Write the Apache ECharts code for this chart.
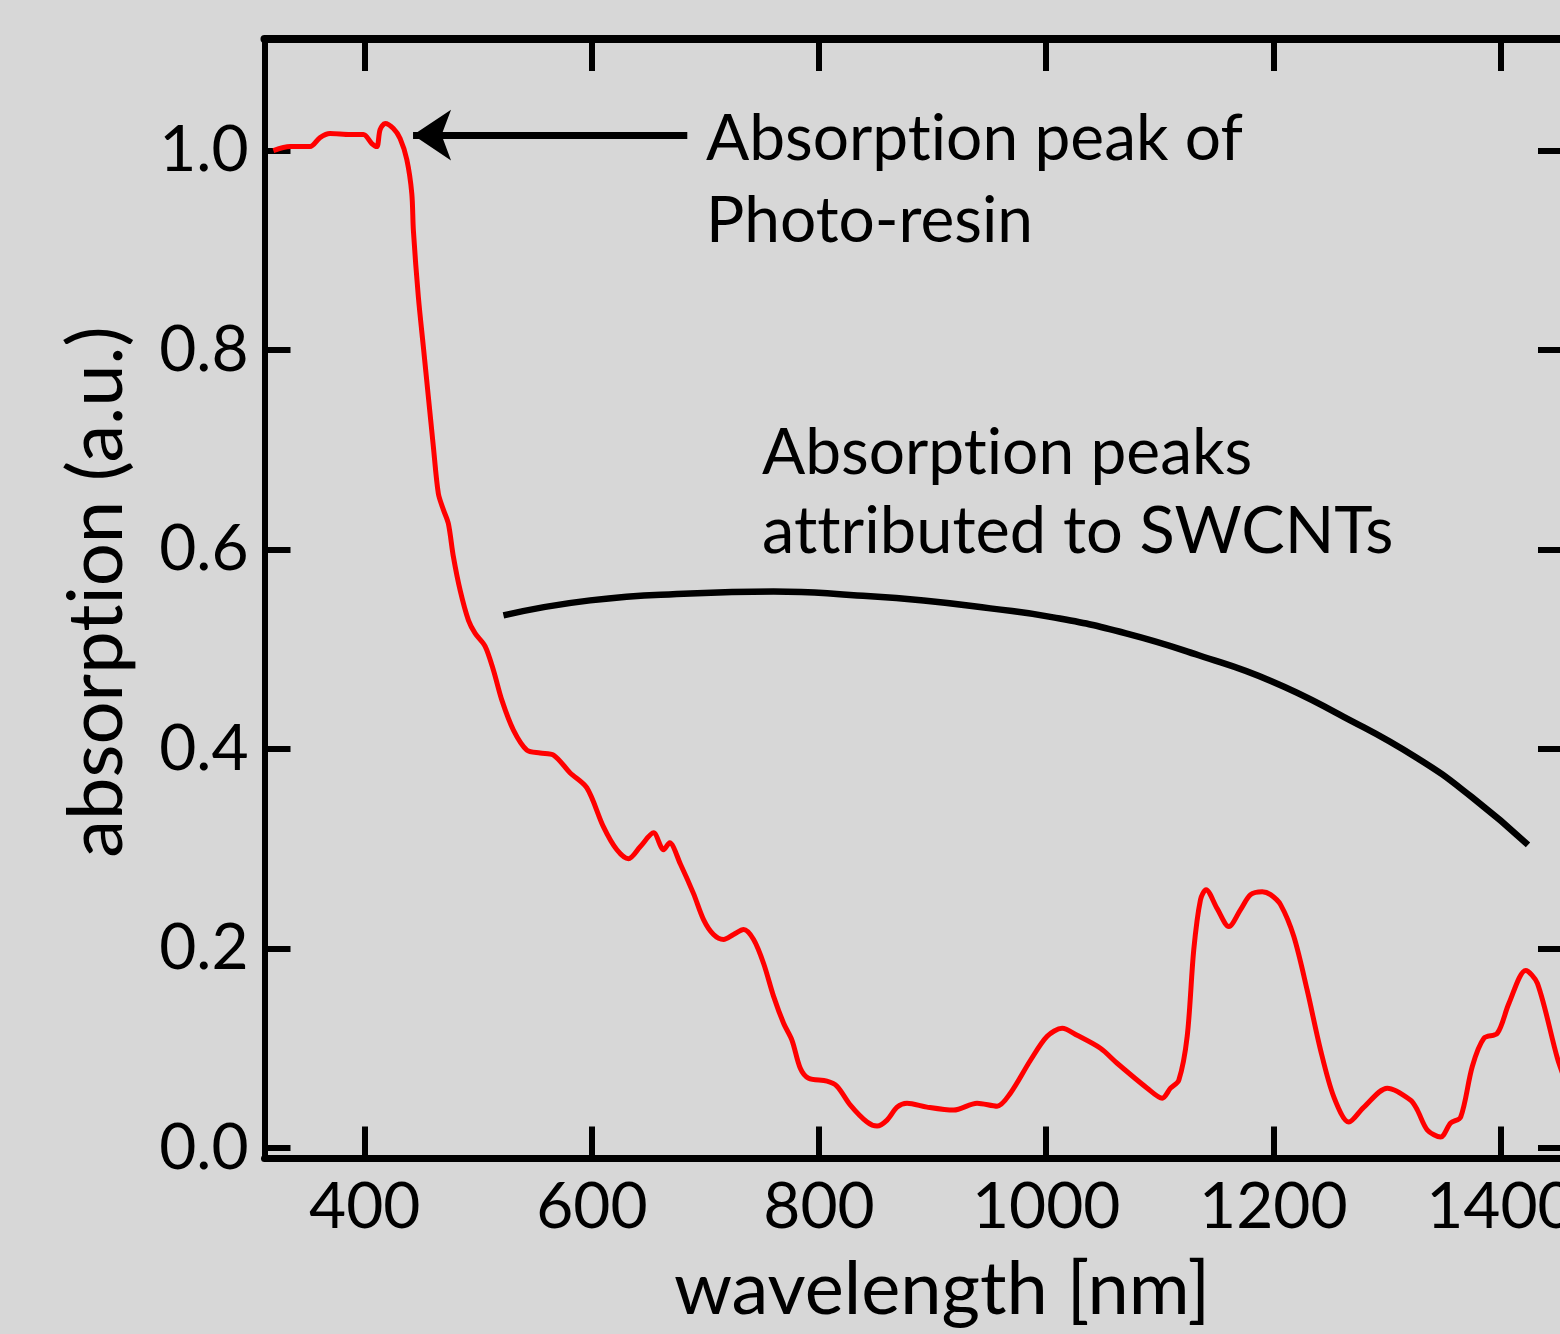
<!DOCTYPE html>
<html>
<head>
<meta charset="utf-8">
<title>absorption spectrum</title>
<script src="https://cdn.jsdelivr.net/npm/echarts@6/dist/echarts.min.js"></script>
<style>
  html, body { margin: 0; padding: 0; background: #d7d7d7; }
  #chart { width: 1560px; height: 1334px; }
</style>
</head>
<body>
<div id="chart"></div>
<script>
// spectrum: wavelength [nm] -> absorption (a.u.)
const wavelength = [
  319.5, 334.2, 351.8, 360.6, 369.4, 387.0, 398.8, 406.2, 410.6, 413.5,
  417.9, 425.2, 431.1, 437.0, 441.4, 442.8, 447.2, 451.6, 456.0, 460.4,
  464.8, 469.2, 473.6, 478.0, 484.0, 491.3, 497.2, 506.0, 513.3, 520.7,
  530.9, 542.7, 554.4, 566.2, 580.9, 595.6, 610.2, 622.0, 632.2, 642.5,
  654.3, 663.1, 668.4, 677.8, 689.5, 698.3, 707.1, 715.9, 724.7, 733.6,
  742.4, 751.2, 760.0, 768.8, 776.2, 783.5, 790.8, 807.0, 815.8, 827.6,
  842.3, 851.1, 859.9, 868.7, 877.5, 895.1, 918.6, 939.2, 956.8, 968.5,
  986.2, 1000.9, 1014.1, 1027.3, 1047.8, 1062.5, 1089.0, 1102.2, 1109.5, 1116.8,
  1124.2, 1130.0, 1135.9, 1140.8, 1150.6, 1160.9, 1171.2, 1180.0, 1190.3, 1197.6,
  1206.4, 1218.1, 1229.9, 1241.7, 1253.4, 1266.6, 1279.8, 1300.4, 1321.0, 1326.9,
  1335.7, 1347.4, 1356.2, 1365.0, 1375.3, 1385.5, 1397.3, 1407.5, 1422.3, 1432.6,
  1450.2, 1458
];
const absorption = [
  1.000, 1.004, 1.004, 1.013, 1.017, 1.016, 1.016, 1.007, 1.004, 1.021,
  1.027, 1.022, 1.012, 0.991, 0.957, 0.920, 0.853, 0.803, 0.753, 0.703,
  0.656, 0.640, 0.626, 0.593, 0.559, 0.529, 0.516, 0.503, 0.479, 0.449,
  0.419, 0.399, 0.396, 0.394, 0.376, 0.361, 0.322, 0.299, 0.290, 0.302,
  0.316, 0.299, 0.306, 0.285, 0.255, 0.229, 0.214, 0.209, 0.214, 0.219,
  0.209, 0.185, 0.152, 0.125, 0.108, 0.080, 0.070, 0.067, 0.062, 0.043,
  0.026, 0.022, 0.028, 0.041, 0.045, 0.041, 0.038, 0.045, 0.042, 0.055,
  0.088, 0.112, 0.120, 0.113, 0.100, 0.085, 0.060, 0.050, 0.060, 0.068,
  0.112, 0.199, 0.249, 0.259, 0.240, 0.222, 0.239, 0.254, 0.257, 0.254,
  0.244, 0.212, 0.158, 0.098, 0.051, 0.026, 0.041, 0.060, 0.048, 0.038,
  0.018, 0.011, 0.025, 0.031, 0.082, 0.110, 0.115, 0.145, 0.178, 0.165,
  0.090, 0.065
];

// black bracket curve over the SWCNT peaks
const swcntCurveX = [522.1, 598.5, 686.6, 760.0, 833.5, 892.1, 950.9, 1006.2, 1070.3, 1134.3, 1198.4, 1262.4, 1326.6, 1374.6, 1424.3];
const swcntCurveY = [0.534, 0.549, 0.556, 0.558, 0.554, 0.549, 0.541, 0.532, 0.516, 0.494, 0.468, 0.432, 0.391, 0.352, 0.304];

// arrow pointing at the resin peak
const arrowFrom = [684, 1.0155];
const arrowTo = [442.5, 1.0155];

const xTicks = [400, 600, 800, 1000, 1200, 1400];
const yTicks = [0, 0.2, 0.4, 0.6, 0.8, 1.0];

const FONT = 'Lato';
const ZWNJ = '\u200C'; // keeps Lato from joining "ti" into a ligature
const chart = echarts.init(document.getElementById('chart'));

const xBase = {
  type: 'value', min: 311.7, max: 1456,
  axisLine: { onZero: false, lineStyle: { color: '#000', width: 7 } },
  axisTick: { inside: true, length: 32, lineStyle: { color: '#000', width: 6 }, customValues: xTicks },
  axisLabel: { customValues: xTicks, color: '#000', fontFamily: FONT, fontSize: 64, margin: 17,
    formatter: v => String(v) },
  splitLine: { show: false }
};
const yBase = {
  type: 'value', min: -0.0105, max: 1.1118,
  axisLine: { onZero: false, lineStyle: { color: '#000', width: 6 } },
  axisTick: { inside: true, length: 26, lineStyle: { color: '#000', width: 6 }, customValues: yTicks },
  axisLabel: { customValues: yTicks, color: '#000', fontFamily: FONT, fontSize: 64, margin: 16,
    formatter: v => v.toFixed(1) },
  splitLine: { show: false }
};

chart.setOption({
  backgroundColor: '#d7d7d7',
  animation: false,
  grid: { left: 264.5, top: 39, width: 1299.5, height: 1119.5, containLabel: false, outerBoundsMode: 'none' },
  xAxis: [
    Object.assign({}, xBase, { position: 'bottom' }),
    Object.assign({}, xBase, { position: 'top',
      axisLine: { onZero: false, lineStyle: { color: '#000', width: 8 } },
      axisLabel: { show: false } })
  ],
  yAxis: [
    Object.assign({}, yBase, { position: 'left' }),
    Object.assign({}, yBase, { position: 'right', axisLabel: { show: false } })
  ],
  series: [
    {
      name: 'spectrum', type: 'line', smooth: 0.3, showSymbol: false,
      data: wavelength.map((w, i) => [w, absorption[i]]),
      lineStyle: { color: '#ff0000', width: 5 }
    },
    {
      name: 'SWCNT peaks', type: 'line', smooth: true, showSymbol: false,
      data: swcntCurveX.map((w, i) => [w, swcntCurveY[i]]),
      lineStyle: { color: '#000', width: 6.5, cap: 'butt' },
      markLine: {
        silent: true, animation: false,
        lineStyle: { color: '#000', width: 7, type: 'solid' },
        label: { show: false },
        data: [[
          { coord: arrowFrom, symbol: 'none' },
          { coord: arrowTo, symbol: 'arrow', symbolSize: 38 }
        ]]
      }
    }
  ],
  graphic: [
    { type: 'text', x: 706, y: 139.5, style: { text: `Absorpt${ZWNJ}ion peak of`, font: `64px ${FONT}`, fill: '#000', verticalAlign: 'middle' } },
    { type: 'text', x: 706, y: 221.5, style: { text: 'Photo-resin', font: `64px ${FONT}`, fill: '#000', verticalAlign: 'middle' } },
    { type: 'text', x: 762, y: 453, style: { text: `Absorpt${ZWNJ}ion peaks`, font: `64px ${FONT}`, fill: '#000', verticalAlign: 'middle' } },
    { type: 'text', x: 762, y: 532, style: { text: `at${ZWNJ}t${ZWNJ}ributed to SWCNTs`, font: `65px ${FONT}`, fill: '#000', verticalAlign: 'middle' } },
    { type: 'text', x: 942, y: 1290, style: { text: 'wavelength [nm]', font: `74px ${FONT}`, fill: '#000', align: 'center', verticalAlign: 'middle' } },
    { type: 'text', x: 97, y: 592, rotation: Math.PI / 2,
      style: { text: `absorpt${ZWNJ}ion (a.u.)`, font: `76px ${FONT}`, fill: '#000', align: 'center', verticalAlign: 'middle' } }
  ]
});
window.addEventListener('resize', () => chart.resize());
</script>
</body>
</html>
